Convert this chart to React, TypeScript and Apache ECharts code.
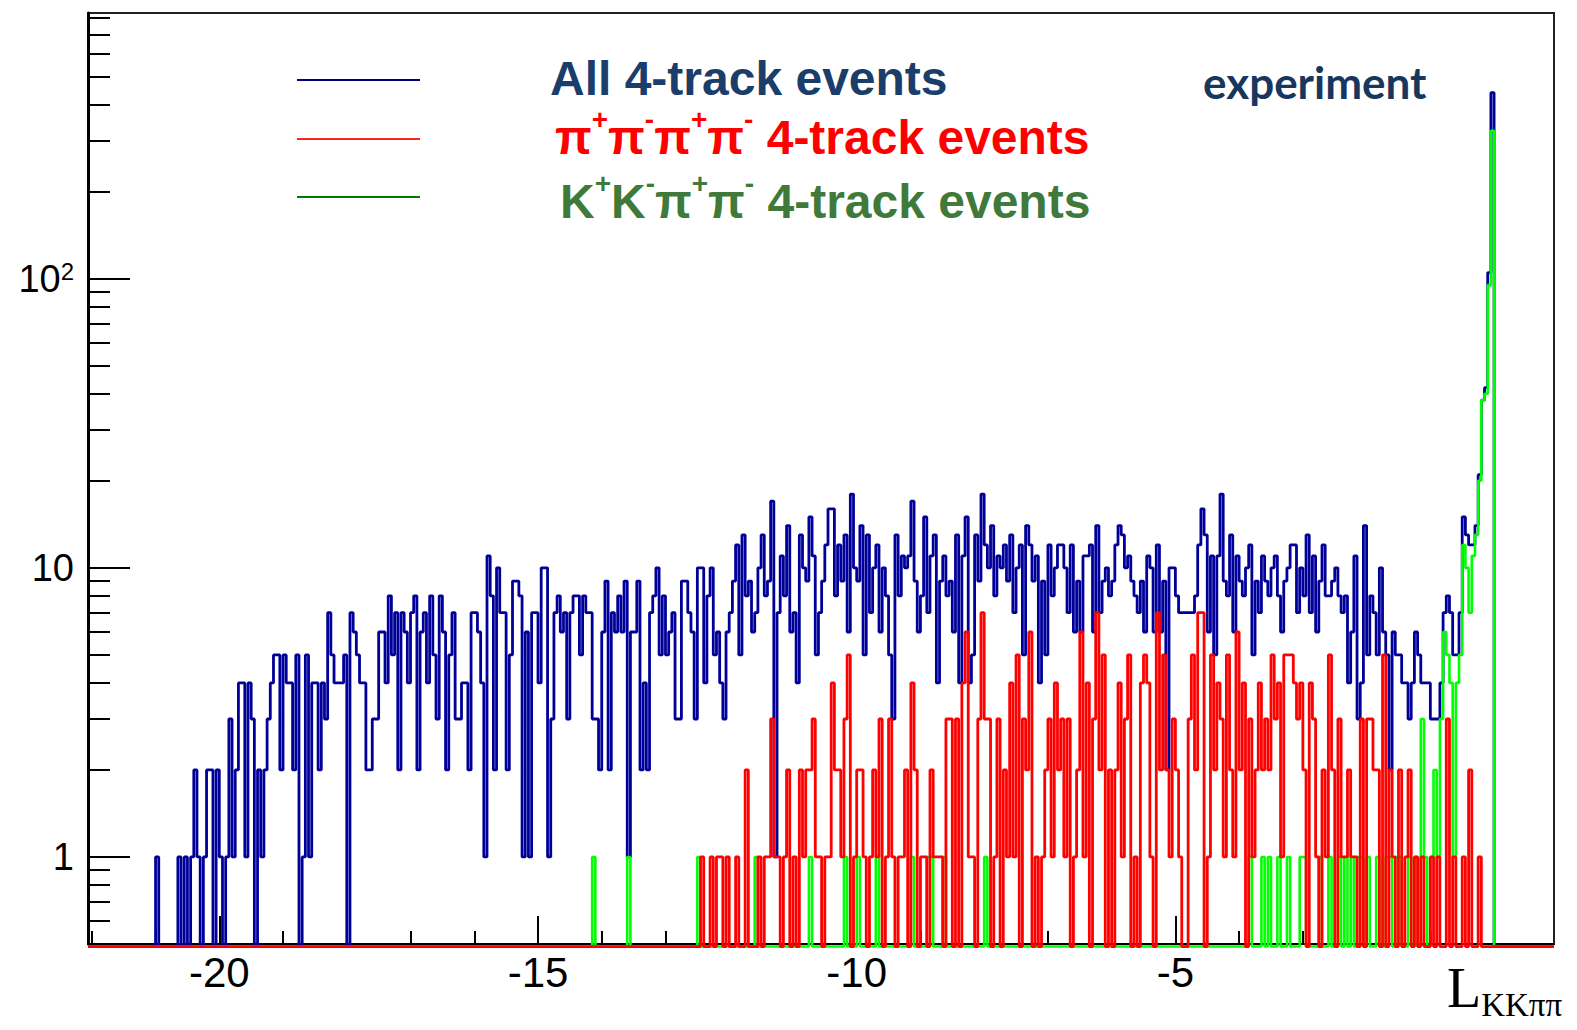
import { useEffect, useRef } from "react";
import * as echarts from "echarts";

// Histogram binning (log-likelihood variable L_KKππ)
const BIN_WIDTH = 0.05;

// All 4-track events, bins starting at -21.0
const ALL_START = -21.0;
const ALL_COUNTS = [
  1, 0, 0, 0, 0, 0, 0, 1, 0, 1,
  0, 1, 2, 1, 0, 1, 2, 2, 0, 2,
  1, 0, 1, 3, 1, 2, 4, 4, 1, 4,
  3, 0, 2, 1, 2, 3, 4, 5, 5, 2,
  5, 4, 4, 2, 5, 0, 1, 5, 1, 4,
  4, 2, 4, 3, 7, 5, 4, 4, 4, 5,
  0, 7, 6, 5, 4, 4, 2, 2, 3, 3,
  6, 6, 4, 8, 5, 7, 2, 7, 6, 4,
  7, 8, 2, 6, 7, 4, 8, 5, 3, 8,
  6, 2, 5, 7, 3, 3, 4, 4, 2, 7,
  7, 6, 4, 1, 11, 8, 2, 10, 7, 7,
  2, 5, 9, 9, 8, 1, 6, 1, 7, 7,
  4, 10, 10, 1, 3, 7, 8, 6, 7, 3,
  7, 8, 8, 5, 8, 7, 7, 3, 3, 2,
  6, 9, 2, 7, 6, 8, 6, 9, 1, 6,
  6, 9, 2, 4, 2, 7, 8, 10, 5, 8,
  5, 6, 7, 3, 3, 9, 9, 7, 6, 3,
  10, 10, 4, 8, 10, 5, 6, 4, 3, 6,
  7, 9, 12, 5, 13, 8, 9, 6, 7, 10,
  13, 8, 9, 17, 1, 7, 11, 8, 14, 6,
  7, 4, 13, 10, 9, 15, 11, 5, 7, 9,
  12, 16, 16, 8, 12, 9, 13, 6, 18, 10,
  9, 14, 5, 13, 7, 10, 12, 6, 10, 8,
  5, 3, 13, 8, 11, 10, 11, 17, 9, 6,
  8, 15, 7, 11, 13, 4, 9, 11, 8, 9,
  6, 13, 4, 11, 15, 4, 5, 13, 9, 18,
  12, 10, 14, 8, 11, 10, 12, 9, 13, 7,
  10, 12, 5, 14, 12, 9, 11, 4, 9, 5,
  12, 8, 10, 12, 12, 10, 7, 12, 6, 9,
  6, 11, 11, 12, 6, 14, 7, 9, 10, 8,
  9, 12, 14, 13, 10, 11, 9, 8, 7, 9,
  6, 11, 10, 6, 12, 6, 9, 2, 10, 10,
  8, 7, 7, 7, 7, 7, 8, 12, 16, 13,
  6, 11, 5, 11, 18, 9, 8, 13, 6, 11,
  9, 8, 10, 12, 5, 9, 7, 11, 9, 8,
  10, 11, 8, 6, 9, 10, 12, 12, 7, 10,
  8, 13, 7, 11, 6, 9, 12, 8, 8, 9,
  10, 8, 7, 8, 4, 6, 11, 3, 4, 14,
  5, 8, 7, 5, 10, 6, 5, 2, 6, 5,
  5, 4, 4, 3, 4, 6, 5, 4, 4, 4,
  3, 3, 3, 4, 7, 8, 7, 5, 5, 7,
  15, 13, 12, 12, 14, 21, 38, 42, 105, 440,
];

// π+π-π+π- 4-track events, bins starting at -12.5
const PIPI_START = -12.5;
const PIPI_COUNTS = [
  0, 1, 0, 0, 1, 0, 1, 1, 0, 1,
  0, 0, 1, 0, 0, 2, 0, 0, 0, 1,
  0, 1, 1, 3, 1, 1, 0, 1, 2, 0,
  1, 0, 2, 1, 2, 2, 3, 1, 1, 0,
  1, 1, 4, 2, 2, 1, 3, 5, 0, 1,
  2, 2, 1, 0, 1, 2, 1, 3, 0, 1,
  3, 1, 0, 1, 1, 2, 0, 4, 2, 0,
  1, 1, 0, 2, 1, 1, 1, 0, 3, 3,
  0, 3, 0, 4, 6, 1, 1, 0, 3, 7,
  3, 3, 0, 1, 3, 0, 2, 1, 4, 1,
  5, 0, 3, 2, 6, 0, 1, 0, 1, 2,
  3, 1, 4, 2, 3, 1, 3, 0, 1, 2,
  6, 1, 4, 0, 3, 7, 2, 5, 0, 2,
  0, 2, 4, 1, 3, 5, 0, 1, 0, 4,
  5, 4, 1, 0, 7, 2, 5, 2, 1, 3,
  2, 1, 0, 0, 3, 5, 2, 7, 7, 0,
  1, 5, 2, 4, 3, 1, 5, 2, 1, 6,
  2, 4, 0, 3, 1, 2, 4, 2, 3, 2,
  5, 3, 4, 1, 5, 5, 5, 4, 3, 4,
  2, 0, 4, 3, 1, 0, 2, 1, 5, 2,
  0, 3, 1, 1, 2, 1, 1, 0, 3, 0,
  3, 3, 2, 2, 0, 5, 0, 2, 1, 0,
  2, 0, 1, 2, 0, 1, 0, 1, 0, 0,
  1, 0, 1, 0, 0, 3, 0, 1, 0, 0,
  1, 0, 2, 0, 0, 1,
];

// K+K-π+π- 4-track events, bins starting at -14.25
const KKPIPI_START = -14.25;
const KKPIPI_COUNTS = [
  0, 0, 1, 0, 0, 0, 0, 0, 0, 0,
  0, 0, 0, 1, 0, 0, 0, 0, 0, 0,
  0, 0, 0, 0, 0, 0, 0, 0, 0, 0,
  0, 0, 0, 0, 0, 1, 0, 0, 0, 0,
  0, 0, 0, 0, 0, 0, 0, 0, 0, 0,
  0, 0, 0, 1, 0, 0, 0, 0, 0, 0,
  0, 0, 0, 0, 0, 0, 0, 0, 0, 0,
  1, 0, 0, 0, 0, 0, 0, 0, 0, 0,
  0, 1, 0, 0, 0, 1, 0, 0, 0, 0,
  0, 1, 0, 0, 0, 0, 0, 0, 0, 0,
  0, 0, 1, 0, 0, 0, 0, 1, 1, 0,
  0, 0, 1, 0, 0, 0, 0, 0, 0, 0,
  0, 0, 0, 0, 0, 1, 0, 0, 0, 0,
  0, 0, 0, 0, 0, 0, 0, 0, 0, 0,
  0, 0, 0, 0, 0, 0, 0, 0, 0, 0,
  0, 0, 0, 0, 0, 0, 0, 0, 0, 0,
  0, 0, 0, 0, 0, 0, 0, 0, 0, 0,
  0, 0, 0, 0, 0, 0, 0, 0, 0, 0,
  0, 0, 0, 0, 0, 0, 0, 0, 0, 0,
  0, 0, 0, 0, 0, 0, 0, 0, 0, 0,
  0, 0, 0, 0, 0, 0, 0, 0, 1, 0,
  0, 0, 1, 0, 1, 0, 0, 1, 0, 0,
  1, 0, 0, 0, 1, 1, 0, 0, 0, 0,
  1, 0, 0, 1, 0, 0, 1, 0, 1, 0,
  1, 0, 1, 1, 0, 1, 0, 0, 1, 0,
  0, 1, 1, 0, 1, 1, 0, 0, 1, 0,
  1, 0, 3, 1, 0, 1, 2, 1, 3, 6,
  5, 4, 1, 4, 5, 12, 10, 7, 11, 13,
  20, 38, 40, 95, 325,
];

// Axis ranges and tick positions
const X_MIN = -22.06;
const X_MAX = 0.94;
const Y_MIN = 0.5;
const Y_MAX = 830;
const X_MAJOR_TICKS = [-20, -15, -10, -5];
const X_MINOR_TICKS = [
  -22, -21, -20, -19, -18, -17, -16, -15, -14, -13, -12,
  -11, -10, -9, -8, -7, -6, -5, -4, -3, -2, -1,
];
const Y_MAJOR_TICKS = [1, 10, 100];
const Y_MINOR_TICKS = [
  0.6, 0.7, 0.8, 0.9,
  2, 3, 4, 5, 6, 7, 8, 9,
  20, 30, 40, 50, 60, 70, 80, 90,
  200, 300, 400, 500, 600, 700, 800,
];

// Empty bins are drawn just under the frame, as ROOT does on a log scale
const EMPTY_LEVEL = 0.49;

const SANS = "'Liberation Sans', Arial, sans-serif";
const SERIF = "'Liberation Serif', 'Times New Roman', serif";

function histogramSteps(start: number, counts: number[]): [number, number][] {
  const pts: [number, number][] = [[X_MIN, EMPTY_LEVEL]];
  counts.forEach((c, i) => {
    pts.push([start + i * BIN_WIDTH, c > 0 ? c : EMPTY_LEVEL]);
  });
  pts.push([start + counts.length * BIN_WIDTH, EMPTY_LEVEL]);
  pts.push([X_MAX, EMPTY_LEVEL]);
  return pts;
}

function histSeries(name: string, start: number, counts: number[], color: string, width: number) {
  return {
    type: "line",
    name,
    data: histogramSteps(start, counts),
    step: "end",
    symbol: "none",
    showSymbol: false,
    clip: false,
    silent: true,
    xAxisIndex: 0,
    yAxisIndex: 0,
    lineStyle: { color, width },
    emphasis: { disabled: true },
  };
}

export default function App() {
  const ref = useRef<HTMLDivElement>(null);

  useEffect(() => {
    if (!ref.current) return;
    const chart = echarts.init(ref.current, null, { renderer: "svg" });

    const legendRich = (color: string) => ({
      b: { fontSize: 48, fontWeight: "bold", fontFamily: SANS, color, lineHeight: 64 },
      s: { fontSize: 28, fontWeight: "bold", fontFamily: SANS, color, lineHeight: 28, verticalAlign: "top" },
    });

    const option: any = {
      animation: false,
      backgroundColor: "#ffffff",
      grid: {
        left: 88,
        right: 23,
        top: 13,
        bottom: 86,
        show: true,
        borderColor: "#222",
        borderWidth: 2,
        backgroundColor: "transparent",
      },
      title: [
        {
          text: "All 4-track events",
          left: 550,
          top: 46,
          padding: 0,
          textStyle: { fontSize: 48, fontWeight: "bold", fontFamily: SANS, color: "#1b3d6a", lineHeight: 64 },
        },
        {
          text: "{b|π}{s|+}{b|π}{s|-}{b|π}{s|+}{b|π}{s|-}{b| 4-track events}",
          left: 555,
          top: 105,
          padding: 0,
          textStyle: { rich: legendRich("#ff0000") },
        },
        {
          text: "{b|K}{s|+}{b|K}{s|-}{b|π}{s|+}{b|π}{s|-}{b| 4-track events}",
          left: 560,
          top: 169,
          padding: 0,
          textStyle: { rich: legendRich("#3f7a3a") },
        },
        {
          text: "experiment",
          left: 1203,
          top: 57,
          padding: 0,
          textStyle: { fontSize: 44, fontWeight: "bold", fontFamily: "Lato, 'Open Sans', sans-serif", color: "#17375e", lineHeight: 50 },
        },
        {
          text: "{l|L}{k|KKππ}",
          left: 1447,
          top: 955,
          padding: 0,
          textStyle: {
            fontWeight: "normal",
            rich: {
              l: { fontSize: 56, fontWeight: "normal", fontFamily: SERIF, color: "#000", lineHeight: 66 },
              k: { fontSize: 33, fontWeight: "normal", fontFamily: SERIF, color: "#000", lineHeight: 33, verticalAlign: "bottom" },
            },
          },
        },
      ],
      graphic: [
        { type: "line", shape: { x1: 297, y1: 80, x2: 420, y2: 80 }, style: { stroke: "#00007a", lineWidth: 2 } },
        { type: "line", shape: { x1: 297, y1: 139, x2: 420, y2: 139 }, style: { stroke: "#ff2020", lineWidth: 2 } },
        { type: "line", shape: { x1: 297, y1: 197, x2: 420, y2: 197 }, style: { stroke: "#007a00", lineWidth: 2 } },
      ],
      xAxis: [
        {
          type: "value",
          min: X_MIN,
          max: X_MAX,
          position: "bottom",
          axisLine: { show: true, onZero: false, lineStyle: { color: "#000", width: 2 } },
          axisTick: {
            show: true,
            inside: true,
            length: 28,
            customValues: X_MAJOR_TICKS,
            lineStyle: { color: "#000", width: 2 },
          },
          axisLabel: {
            customValues: X_MAJOR_TICKS,
            fontSize: 42,
            fontFamily: SANS,
            color: "#000",
            margin: 7,
          },
          splitLine: { show: false },
        },
        {
          type: "value",
          min: X_MIN,
          max: X_MAX,
          position: "bottom",
          axisLine: { show: false, onZero: false },
          axisTick: {
            show: true,
            inside: true,
            length: 13,
            customValues: X_MINOR_TICKS,
            lineStyle: { color: "#000", width: 2 },
          },
          axisLabel: { show: false },
          splitLine: { show: false },
        },
      ],
      yAxis: [
        {
          type: "log",
          logBase: 10,
          min: Y_MIN,
          max: Y_MAX,
          axisLine: { show: true, onZero: false, lineStyle: { color: "#000", width: 3 } },
          axisTick: {
            show: true,
            inside: true,
            length: 42,
            customValues: Y_MAJOR_TICKS,
            lineStyle: { color: "#000", width: 2 },
          },
          axisLabel: {
            customValues: Y_MAJOR_TICKS,
            margin: 14,
            formatter: (v: number) => {
              const r = Math.round(v);
              return r === 100 ? "{a|10}{s|2}" : "{a|" + r + "}";
            },
            rich: {
              a: { fontSize: 38, fontFamily: SANS, color: "#000" },
              s: { fontSize: 24, fontFamily: SANS, color: "#000", verticalAlign: "top" },
            },
          },
          splitLine: { show: false },
        },
        {
          type: "log",
          logBase: 10,
          min: Y_MIN,
          max: Y_MAX,
          position: "left",
          axisLine: { show: false, onZero: false },
          axisTick: {
            show: true,
            inside: true,
            length: 22,
            customValues: Y_MINOR_TICKS,
            lineStyle: { color: "#000", width: 2 },
          },
          axisLabel: { show: false },
          splitLine: { show: false },
        },
      ],
      series: [
        histSeries("All 4-track events", ALL_START, ALL_COUNTS, "#000099", 2.8),
        histSeries("K+K-π+π- 4-track events", KKPIPI_START, KKPIPI_COUNTS, "#00ff00", 2.6),
        histSeries("π+π-π+π- 4-track events", PIPI_START, PIPI_COUNTS, "#ff0000", 2.8),
      ],
    };

    chart.setOption(option);
    return () => chart.dispose();
  }, []);

  return (
    <div
      ref={ref}
      style={{ position: "fixed", left: 0, top: 0, width: 1577, height: 1030, background: "#fff" }}
    />
  );
}
